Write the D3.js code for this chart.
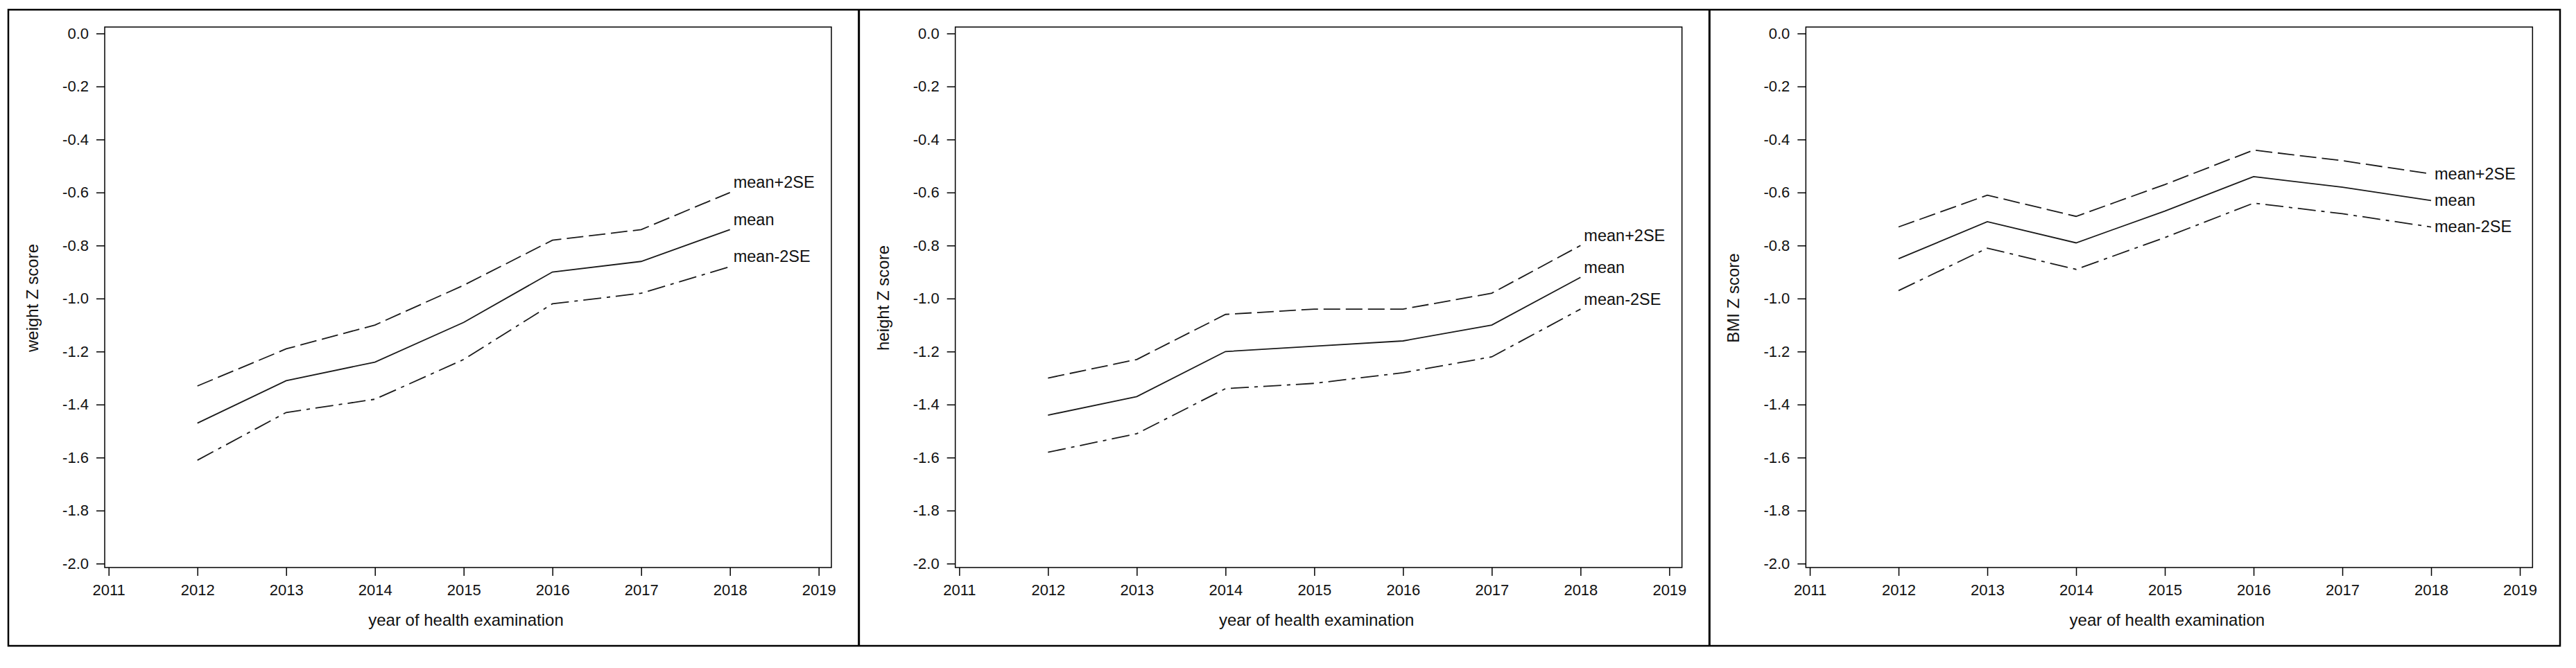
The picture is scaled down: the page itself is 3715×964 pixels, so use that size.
<!DOCTYPE html>
<html>
<head>
<meta charset="utf-8">
<script src="https://cdn.jsdelivr.net/npm/d3@7/dist/d3.min.js"></script>
<style>
  html, body { margin: 0; padding: 0; background: #fff; }
  svg { display: block; }
  text { font-family: Arial, "Liberation Sans", "DejaVu Sans", sans-serif; fill: #111; }
</style>
</head>
<body>
<div id="chart"></div>
<script>
// ---------------- data ----------------
const years = [2012, 2013, 2014, 2015, 2016, 2017, 2018];
const xTickValues = [2011, 2012, 2013, 2014, 2015, 2016, 2017, 2018, 2019];
const yTickValues = [0, -0.2, -0.4, -0.6, -0.8, -1.0, -1.2, -1.4, -1.6, -1.8, -2.0];
const seriesNames = ["mean+2SE", "mean", "mean-2SE"];
const yTitles = ["weight Z score", "height Z score", "BMI Z score"];
const xTitle = "year of health examination";

const weightUpper = [-1.33, -1.19, -1.10, -0.95, -0.78, -0.74, -0.60];
const weightMean  = [-1.47, -1.31, -1.24, -1.09, -0.90, -0.86, -0.74];
const weightLower = [-1.61, -1.43, -1.38, -1.23, -1.02, -0.98, -0.88];

const heightUpper = [-1.30, -1.23, -1.06, -1.04, -1.04, -0.98, -0.80];
const heightMean  = [-1.44, -1.37, -1.20, -1.18, -1.16, -1.10, -0.92];
const heightLower = [-1.58, -1.51, -1.34, -1.32, -1.28, -1.22, -1.04];

const bmiUpper = [-0.73, -0.61, -0.69, -0.57, -0.44, -0.48, -0.53];
const bmiMean  = [-0.85, -0.71, -0.79, -0.67, -0.54, -0.58, -0.63];
const bmiLower = [-0.97, -0.81, -0.89, -0.77, -0.64, -0.68, -0.73];

const panels = [
  { title: yTitles[0], series: [weightUpper, weightMean, weightLower], labelMode: "above" },
  { title: yTitles[1], series: [heightUpper, heightMean, heightLower], labelMode: "above" },
  { title: yTitles[2], series: [bmiUpper, bmiMean, bmiLower], labelMode: "center" }
];

// ---------------- layout ----------------
const W = 3715, H = 964;
const outer = { x0: 12, y0: 14, x1: 3692, y1: 932 };
const panelW = (outer.x1 - outer.x0) / 3;
const frame = { left: 139, right: 1187, top: 39, bottom: 819 };
const xRangeInset = { left: 5.7, right: 18.3 };
const yRange = [48.3, 813.3];
const dashes = [ "24,8", null, "26,8,5,8" ];

const loc = d3.formatLocale({ decimal: ".", thousands: ",", grouping: [3], currency: ["", ""], minus: "-" });
const fmtY = loc.format(".1f");

const svg = d3.select("#chart").append("svg")
  .attr("width", W).attr("height", H);

svg.append("rect").attr("width", W).attr("height", H).attr("fill", "#fff");

panels.forEach((p, i) => {
  const L = outer.x0 + i * panelW;
  const g = svg.append("g");

  const x = d3.scaleLinear()
    .domain([2011, 2019])
    .range([L + frame.left + xRangeInset.left, L + frame.right - xRangeInset.right]);
  const y = d3.scaleLinear().domain([0, -2]).range(yRange);

  // frame
  g.append("rect")
    .attr("x", L + frame.left).attr("y", frame.top)
    .attr("width", frame.right - frame.left).attr("height", frame.bottom - frame.top)
    .attr("fill", "none").attr("stroke", "#000").attr("stroke-width", 1.5);

  // y axis
  const ya = g.append("g")
    .attr("transform", `translate(${L + frame.left},0)`)
    .call(d3.axisLeft(y).tickValues(yTickValues).tickFormat(fmtY).tickSize(12).tickPadding(11));
  ya.select(".domain").remove();
  ya.selectAll(".tick line").attr("stroke", "#000").attr("stroke-width", 1.5);
  ya.selectAll(".tick text").attr("font-size", 22).attr("fill", "#111")
    .attr("font-family", "Arial, 'Liberation Sans', sans-serif");

  // x axis
  const xa = g.append("g")
    .attr("transform", `translate(0,${frame.bottom})`)
    .call(d3.axisBottom(x).tickValues(xTickValues).tickFormat(d3.format("d")).tickSize(12).tickPadding(12));
  xa.select(".domain").remove();
  xa.selectAll(".tick line").attr("stroke", "#000").attr("stroke-width", 1.5);
  xa.selectAll(".tick text").attr("font-size", 22).attr("fill", "#111")
    .attr("font-family", "Arial, 'Liberation Sans', sans-serif");

  // axis titles
  g.append("text")
    .attr("x", L + (frame.left + frame.right) / 2 - 3)
    .attr("y", 903)
    .attr("text-anchor", "middle")
    .attr("font-size", 24)
    .text(xTitle);

  g.append("text")
    .attr("transform", `translate(${L + 43},${(frame.top + frame.bottom) / 2 + 1}) rotate(-90)`)
    .attr("text-anchor", "middle")
    .attr("font-size", 24)
    .text(p.title);

  // lines
  const line = d3.line().x((d, k) => x(years[k])).y(d => y(d));
  p.series.forEach((vals, s) => {
    const path = g.append("path")
      .datum(vals)
      .attr("d", line)
      .attr("fill", "none")
      .attr("stroke", "#1a1a1a")
      .attr("stroke-width", 1.8);
    if (dashes[s]) path.attr("stroke-dasharray", dashes[s]);

    const lastX = x(years[years.length - 1]);
    const lastY = y(vals[vals.length - 1]);
    const t = g.append("text")
      .attr("x", lastX + 5)
      .attr("font-size", 23.5)
      .text(seriesNames[s]);
    if (p.labelMode === "above") {
      t.attr("y", lastY - 6.5);
    } else {
      t.attr("y", lastY + 7.5);
    }
  });
});

// outer border and dividers
svg.append("rect")
  .attr("x", outer.x0).attr("y", outer.y0)
  .attr("width", outer.x1 - outer.x0).attr("height", outer.y1 - outer.y0)
  .attr("fill", "none").attr("stroke", "#000").attr("stroke-width", 2.5);
[1, 2].forEach(k => {
  svg.append("line")
    .attr("x1", outer.x0 + k * panelW).attr("x2", outer.x0 + k * panelW)
    .attr("y1", outer.y0).attr("y2", outer.y1)
    .attr("stroke", "#000").attr("stroke-width", 3);
});
</script>
</body>
</html>
